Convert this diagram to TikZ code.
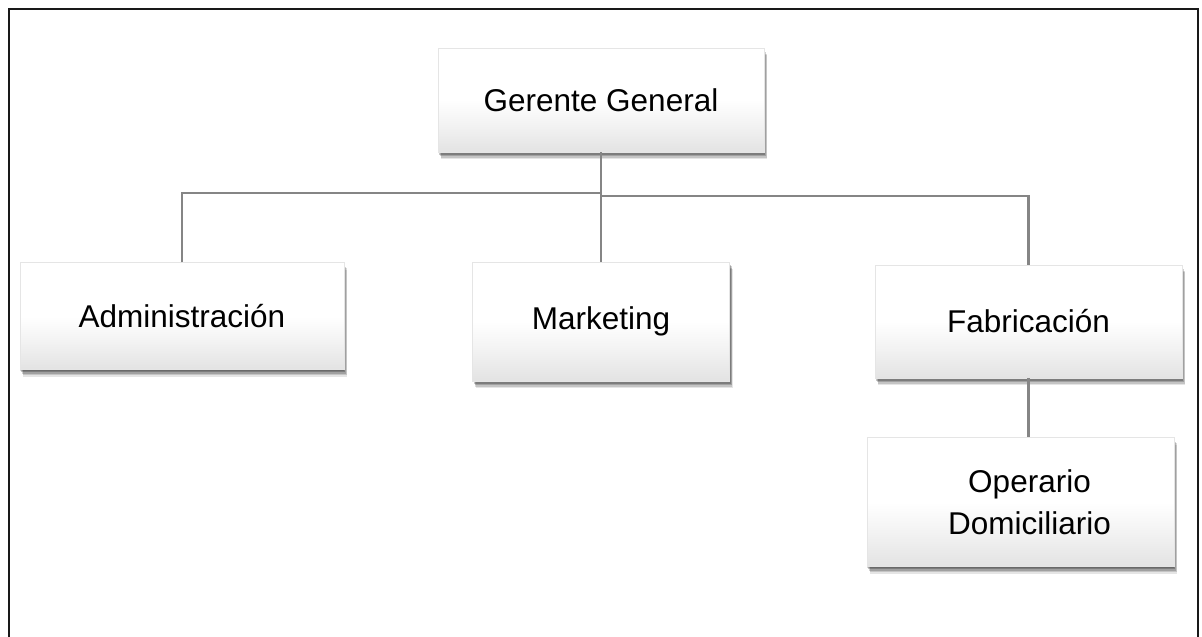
\documentclass[tikz,border=0pt]{standalone}
\usepackage{fontspec}
\setmainfont{Liberation Sans}
\pgfdeclareverticalshading{boxshade}{100bp}{color(0bp)=(black!11); color(25bp)=(black!11); color(38bp)=(black!5); color(50bp)=(white); color(100bp)=(white)}
\tikzset{
  orgbox/.style={rectangle, inner sep=0pt, shading=boxshade, draw=black!10, line width=0.4pt,
    font=\fontsize{31.5}{42}\selectfont, align=center,
    preaction={fill=black, fill opacity=.10, transform canvas={xshift=3pt, yshift=-7pt}},
    preaction={fill=black, fill opacity=.14, transform canvas={xshift=2.5pt, yshift=-5.5pt}},
    preaction={fill=black, fill opacity=.18, transform canvas={xshift=2pt, yshift=-4pt}},
    preaction={fill=black, fill opacity=.22, transform canvas={xshift=1pt, yshift=-2.5pt}},
    preaction={fill=black, fill opacity=.15, transform canvas={xshift=0pt, yshift=-1pt}}},
  conn/.style={draw=black!48, line width=2.4pt},
  frameline/.style={draw=black!90, line width=2.2pt}
}
\begin{document}
\begin{tikzpicture}[x=1pt, y=-1pt]
\useasboundingbox (0,0) rectangle (1202,637);
\clip (0,0) rectangle (1202,637);
\fill[white] (0,0) rectangle (1202,637);
\draw[frameline] (9,660) -- (9,9) -- (1198,9) -- (1198,660);

\coordinate (jl) at (601,193);
\coordinate (jr) at (601,196);

\node[orgbox, minimum width=326pt, minimum height=104pt] (ger) at (601,100) {Gerente General};
\node[orgbox, minimum width=324pt, minimum height=107pt] (adm) at (182,316) {Administración};
\node[orgbox, minimum width=257pt, minimum height=119pt] (mkt) at (601,321.5) {Marketing};
\node[orgbox, minimum width=307pt, minimum height=113pt] (fab) at (1028.5,321.5) {Fabricación};
\node[orgbox, minimum width=307pt, minimum height=129pt] (ope) at (1020.5,502) {\hspace*{18pt}Operario\\\hspace*{18pt}Domiciliario};

\draw[conn] (adm.north) |- (jl);
\draw[conn] (fab.north) |- (jr);
\draw[conn] (ger.south) -- (ger.south |- mkt.north);
\draw[conn] (fab.south) -- (fab.south |- ope.north);
\end{tikzpicture}
\end{document}
